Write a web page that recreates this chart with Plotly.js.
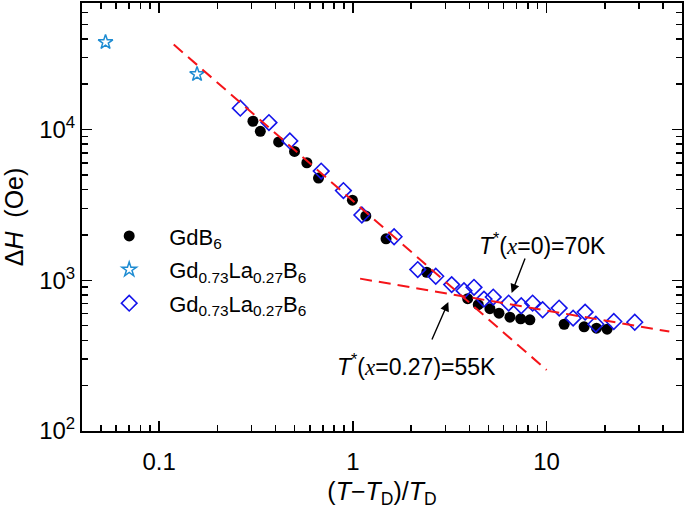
<!DOCTYPE html>
<html>
<head>
<meta charset="utf-8">
<script src="https://cdn.plot.ly/plotly-3.0.1.min.js"></script>
<style>html,body{margin:0;padding:0;background:#fff;}#chart{width:685px;height:509px;}</style>
</head>
<body>
<div id="chart"></div>
<script>
// GdB6 (filled circles)
const gdb6X = [0.305, 0.333, 0.414, 0.500, 0.579, 0.665, 0.995, 1.167, 1.484, 2.407, 3.915, 4.44, 5.10, 5.68, 6.47, 7.35, 8.20, 12.32, 15.62, 18.10, 20.53];
const gdb6Y = [11360, 9743, 8279, 7166, 6026, 4766, 3399, 2671, 1885, 1131, 755, 689, 648, 605, 569, 555, 547, 511, 491, 481, 474];
// Gd0.73La0.27B6 (open stars)
const starX = [0.0529, 0.157];
const starY = [38000, 23300];
// Gd0.73La0.27B6 (open diamonds)
const diaX = [0.2625, 0.369, 0.473, 0.6865, 0.894, 1.113, 1.633, 2.163, 2.679, 3.237, 3.747, 4.22, 4.752, 5.305, 6.37, 7.40, 8.47, 9.54, 11.61, 13.71, 15.81, 17.96, 22.23, 28.52];
const diaY = [13870, 11130, 8408, 5305, 3938, 2713, 1944, 1178, 1063, 936, 854, 898, 750, 774, 706, 678, 706, 638, 654, 561, 615, 511, 533, 527];
// dashed power-law guide lines
const fitSteepX = [0.119, 10];
const fitSteepY = [36700, 254];
const fitShallowX = [1.09, 43];
const fitShallowY = [1026, 457];
// axis ticks
const xTickVals = [0.1, 1, 10];
const xTickText = ['0.1', '1', '10'];
const yTickVals = [100, 1000, 10000];
const yTickText = ['10<sup>2</sup>', '10<sup>3</sup>', '10<sup>4</sup>'];
const xMinor = [0.05,0.06,0.07,0.08,0.09,0.2,0.3,0.4,0.5,0.6,0.7,0.8,0.9,2,3,4,5,6,7,8,9,20,30,40];
const yMinor = [200,300,400,500,600,700,800,900,2000,3000,4000,5000,6000,7000,8000,9000,20000,30000,40000,50000,60000];

const FONT = 'Liberation Sans, Arial, sans-serif';
const RED = 'rgb(245,20,25)';

const traces = [
  {x: gdb6X, y: gdb6Y, type: 'scatter', mode: 'markers', name: 'GdB<sub>6</sub>', legendgroup: 'g1',
   marker: {symbol: 'circle', size: 11, color: '#000'}},
  {x: starX, y: starY, type: 'scatter', mode: 'markers', name: 'Gd<sub>0.73</sub>La<sub>0.27</sub>B<sub>6</sub>', legendgroup: 'g2',
   marker: {symbol: 'star-open', size: 11, color: 'rgb(30,140,210)', line: {width: 1.5, color: 'rgb(30,140,210)'}}},
  {x: diaX, y: diaY, type: 'scatter', mode: 'markers', name: 'Gd<sub>0.73</sub>La<sub>0.27</sub>B<sub>6</sub>', legendgroup: 'g3',
   marker: {symbol: 'diamond-open', size: 12, color: 'rgb(20,20,235)', line: {width: 1.6, color: 'rgb(20,20,235)'}}},
  {x: fitSteepX, y: fitSteepY, type: 'scatter', mode: 'lines', showlegend: false,
   line: {color: RED, width: 2, dash: '12px,7px'}},
  {x: fitShallowX, y: fitShallowY, type: 'scatter', mode: 'lines', showlegend: false,
   line: {color: RED, width: 2, dash: '12px,7px'}}
];

const axisCommon = {
  showline: true, linecolor: '#000', linewidth: 2, mirror: 'allticks',
  ticks: 'inside', ticklen: 10, tickwidth: 1.5, tickcolor: '#000',
  showgrid: false, zeroline: false,
  tickfont: {family: FONT, size: 24, color: '#000'},
  minor: {ticks: 'inside', ticklen: 6, tickwidth: 1.5, tickcolor: '#000', showgrid: false}
};

const layout = {
  width: 685, height: 509,
  margin: {l: 82, r: 3, t: 3, b: 78},
  paper_bgcolor: '#fff', plot_bgcolor: '#fff',
  font: {family: FONT, color: '#000'},
  xaxis: Object.assign({}, axisCommon, {
    type: 'log', range: [Math.log10(0.04), Math.log10(50)],
    tickmode: 'array', tickvals: xTickVals, ticktext: xTickText,
    ticklabelstandoff: 8,
    minor: Object.assign({}, axisCommon.minor, {tickmode: 'array', tickvals: xMinor}),
    title: {text: '(<i>T</i>−<i>T</i><sub>D</sub>)/<i>T</i><sub>D</sub>', font: {family: FONT, size: 25, color: '#000'}, standoff: 10},
    automargin: false
  }),
  yaxis: Object.assign({}, axisCommon, {
    type: 'log', range: [2, 4.84],
    tickmode: 'array', tickvals: yTickVals, ticktext: yTickText,
    minor: Object.assign({}, axisCommon.minor, {tickmode: 'array', tickvals: yMinor}),
    title: {text: 'Δ<i>H</i>  (Oe)', font: {family: FONT, size: 25, color: '#000'}, standoff: 11},
    automargin: false
  }),
  legend: {
    x: 0.012, y: 0.377, xanchor: 'left', yanchor: 'middle',
    bgcolor: 'rgba(0,0,0,0)', borderwidth: 0,
    font: {family: FONT, size: 22, color: '#000'},
    itemwidth: 70, tracegroupgap: 2
  },
  showlegend: true,
  annotations: [
    {x: Math.log10(9.57), y: Math.log10(1738), xref: 'x', yref: 'y', showarrow: false,
     text: "<i>T</i><sup>*</sup>(<span style=\"font-family:Liberation Serif\"><i>x</i></span>=0)=70K",
     font: {family: FONT, size: 23, color: '#000'}},
    {x: Math.log10(2.12), y: Math.log10(275), xref: 'x', yref: 'y', showarrow: false,
     text: "<i>T</i><sup>*</sup>(<span style=\"font-family:Liberation Serif\"><i>x</i></span>=0.27)=55K",
     font: {family: FONT, size: 23, color: '#000'}},
    {x: Math.log10(6.60), y: Math.log10(822), xref: 'x', yref: 'y', text: '', showarrow: true,
     ax: 14, ay: -36, arrowhead: 2, arrowsize: 1.3, arrowwidth: 1.4, arrowcolor: '#000', standoff: 0},
    {x: Math.log10(3.11), y: Math.log10(717), xref: 'x', yref: 'y', text: '', showarrow: true,
     ax: -17, ay: 39, arrowhead: 2, arrowsize: 1.3, arrowwidth: 1.4, arrowcolor: '#000', standoff: 0}
  ]
};

Plotly.newPlot('chart', traces, layout, {staticPlot: true, displayModeBar: false});
</script>
</body>
</html>
